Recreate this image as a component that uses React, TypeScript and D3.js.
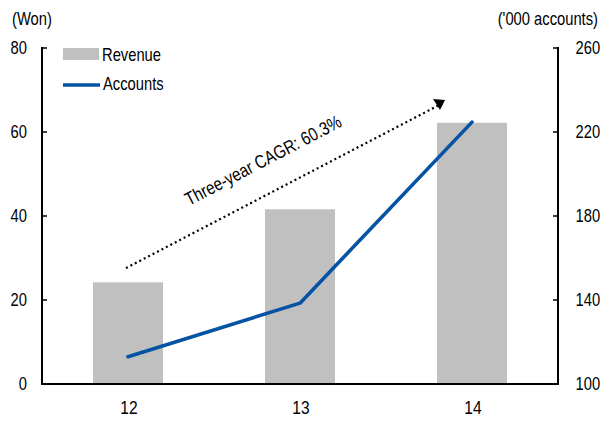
import React from "react";
import * as d3 from "d3";

const categories = ["12", "13", "14"];
const revenue = [24.2, 41.6, 62.2];
const accounts = [113, 138.5, 224.7];
const leftTicks = [0, 20, 40, 60, 80];
const rightTicks = [100, 140, 180, 220, 260];
const annotation = "Three-year CAGR: 60.3%";

const W = 613;
const H = 427;
const M = { left: 42, right: 558, top: 48, bottom: 384 };
const FONT = "'Liberation Sans', Arial, sans-serif";
const SX = 0.82;

type TP = { x: number; y: number; size?: number; anchor?: string; rotate?: number; children: React.ReactNode };
function T({ x, y, size = 18, anchor = "start", rotate = 0, children }: TP) {
  return (
    <text
      transform={`translate(${x},${y}) rotate(${rotate}) scale(${SX},1)`}
      fontSize={size}
      textAnchor={anchor}
      fill="#000"
      fontFamily={FONT}
    >
      {children}
    </text>
  );
}

export default function App() {
  const x = d3.scaleBand<string>().domain(categories).range([M.left, M.right]).paddingInner(0.593).paddingOuter(0.2965);
  const yL = d3.scaleLinear().domain([0, 80]).range([M.bottom, M.top]);
  const yR = d3.scaleLinear().domain([100, 260]).range([M.bottom, M.top]);
  const cx = (c: string) => (x(c) as number) + x.bandwidth() / 2;

  const line = d3
    .line<number>()
    .x((_, i) => cx(categories[i]))
    .y((d) => yR(d));

  const ax0 = cx(categories[0]) - 2;
  const ay0 = yL(27.6);
  const ax1 = cx(categories[2]) - 33;
  const ay1 = yL(66.4);

  return (
    <svg width={W} height={H} style={{ position: "absolute", left: 0, top: 0 }}>
      <rect width={W} height={H} fill="#fff" />
      {categories.map((c, i) => (
        <rect key={c} x={x(c)} y={yL(revenue[i])} width={x.bandwidth()} height={M.bottom - yL(revenue[i])} fill="#C0C0C0" />
      ))}
      <path d={line(accounts) || ""} fill="none" stroke="#0553A3" strokeWidth={3.6} strokeLinecap="round" strokeLinejoin="round" />

      <line x1={M.left} x2={M.left} y1={M.top - 1} y2={M.bottom + 1} stroke="#000" strokeWidth={2} />
      <line x1={M.right} x2={M.right} y1={M.top - 1} y2={M.bottom + 1} stroke="#000" strokeWidth={2} />
      <line x1={M.left - 1} x2={M.right + 1} y1={M.bottom} y2={M.bottom} stroke="#000" strokeWidth={2} />
      {leftTicks.map((t) => (
        <g key={"l" + t}>
          <line x1={M.left} x2={M.left + 5} y1={yL(t)} y2={yL(t)} stroke="#000" strokeWidth={1.5} />
          <T x={27} y={yL(t) + 6.4} anchor="end">{t}</T>
        </g>
      ))}
      {rightTicks.map((t) => (
        <g key={"r" + t}>
          <line x1={M.right - 5} x2={M.right} y1={yR(t)} y2={yR(t)} stroke="#000" strokeWidth={1.5} />
          <T x={575.5} y={yR(t) + 6.4}>{t}</T>
        </g>
      ))}
      {categories.map((c) => (
        <T key={"x" + c} x={cx(c) + 1} y={414} size={19} anchor="middle">{c}</T>
      ))}

      <T x={12} y={25}>(Won)</T>
      <T x={598} y={25} anchor="end">('000 accounts)</T>

      <rect x={63} y={48} width={36} height={12} fill="#C0C0C0" />
      <T x={102} y={61}>Revenue</T>
      <line x1={63} x2={100} y1={85} y2={85} stroke="#0553A3" strokeWidth={3.6} />
      <T x={103} y={90}>Accounts</T>

      <line x1={ax0} y1={ay0} x2={ax1} y2={ay1} stroke="#000" strokeWidth={2.2} strokeDasharray="2,3" />
      <path d={`M${ax1 - 6},${ay1 - 6}L${ax1 + 6},${ay1 - 5}L${ax1 + 1},${ay1 + 5}Z`} fill="#000" />
      <T x={189} y={206} size={18.5} rotate={-27.5}>{annotation}</T>
    </svg>
  );
}
